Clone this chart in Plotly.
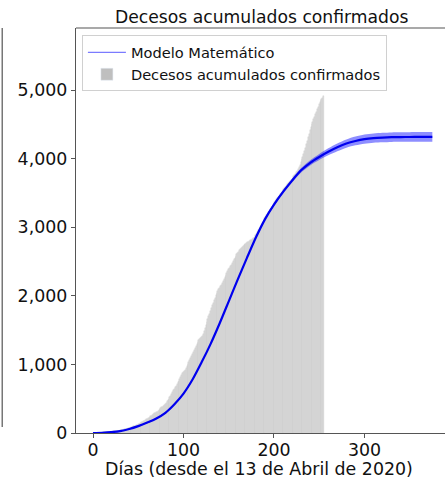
import plotly.graph_objects as go

# ---------------- data ----------------
bar_days = list(range(0, 256))
bar_deaths = [
    2, 2, 3, 3, 4, 4, 5, 5, 6, 7,
    7, 8, 9, 10, 11, 12, 13, 14, 15, 17,
    18, 20, 21, 23, 25, 27, 29, 31, 33, 36,
    38, 41, 44, 47, 50, 53, 57, 60, 64, 68,
    72, 76, 80, 85, 90, 95, 100, 106, 112, 118,
    125, 132, 140, 147, 155, 163, 171, 180, 189, 198,
    208, 215, 222, 230, 242, 255, 265, 275, 285, 292,
    300, 312, 325, 338, 350, 362, 372, 382, 395, 410,
    425, 442, 460, 480, 500, 522, 545, 570, 595, 620,
    645, 668, 692, 715, 738, 760, 790, 820, 850, 870,
    885, 900, 920, 945, 970, 1000, 1030, 1060, 1090, 1120,
    1150, 1180, 1210, 1240, 1270, 1300, 1325, 1350, 1370, 1385,
    1395, 1410, 1440, 1480, 1530, 1580, 1620, 1660, 1700, 1740,
    1780, 1820, 1860, 1900, 1940, 1975, 2010, 2040, 2070, 2095,
    2115, 2140, 2165, 2190, 2220, 2250, 2280, 2310, 2340, 2365,
    2390, 2410, 2430, 2455, 2480, 2505, 2530, 2555, 2580, 2605,
    2625, 2645, 2665, 2685, 2700, 2715, 2730, 2740, 2750, 2760,
    2770, 2780, 2790, 2800, 2810, 2820, 2830, 2840, 2850, 2860,
    2880, 2905, 2930, 2955, 2980, 3005, 3030, 3055, 3080, 3105,
    3130, 3150, 3175, 3200, 3220, 3240, 3260, 3280, 3300, 3320,
    3345, 3365, 3385, 3405, 3425, 3445, 3460, 3480, 3500, 3520,
    3535, 3555, 3570, 3590, 3605, 3625, 3640, 3660, 3675, 3695,
    3710, 3725, 3745, 3760, 3780, 3800, 3825, 3850, 3880, 3910,
    3950, 3990, 4030, 4070, 4110, 4160, 4210, 4260, 4310, 4360,
    4420, 4460, 4500, 4540, 4575, 4610, 4645, 4680, 4720, 4760,
    4790, 4820, 4850, 4870, 4890, 4910,
]

model_days = [0, 10, 20, 30, 40, 50, 60, 70, 80, 90, 100, 110, 120, 130, 140,
              150, 160, 170, 180, 190, 200, 210, 220, 230, 240, 250, 260, 270,
              280, 290, 300, 310, 320, 330, 340, 350, 360, 375]
model_deaths = [0, 4, 12, 28, 58, 100, 152, 212, 295, 420, 575, 780, 1030, 1300,
                1600, 1920, 2240, 2550, 2850, 3115, 3330, 3515, 3680, 3830, 3940,
                4025, 4100, 4165, 4220, 4258, 4285, 4300, 4308, 4313, 4315, 4316,
                4317, 4318]
model_spread = [0, 2, 4, 6, 8, 10, 10, 10, 10, 10, 10, 10, 10, 10, 10,
                10, 12, 14, 16, 18, 22, 25, 28, 32, 38, 44, 50, 56,
                60, 64, 66, 68, 70, 70, 70, 70, 70, 70]

y_ticks = [0, 1000, 2000, 3000, 4000, 5000]
y_tick_labels = ["0", "1,000", "2,000", "3,000", "4,000", "5,000"]
x_ticks = [0, 100, 200, 300]

title_text = "Decesos acumulados confirmados"
x_label = "Días (desde el 13 de Abril de 2020)"

# ---------------- figure ----------------
FONT = "DejaVu Sans"
fig = go.Figure()

fig.add_trace(go.Bar(
    x=bar_days, y=bar_deaths, width=1.0,
    marker=dict(color="#dedede", line=dict(width=0.4, color="#cbcbcb")),
    name="Decesos acumulados confirmados", showlegend=False,
))

upper = [m + s for m, s in zip(model_deaths, model_spread)]
lower = [m - s for m, s in zip(model_deaths, model_spread)]
fig.add_trace(go.Scatter(x=model_days, y=lower, mode="lines", line=dict(width=0, shape="spline", smoothing=0.8),
                         showlegend=False, hoverinfo="skip"))
fig.add_trace(go.Scatter(x=model_days, y=upper, mode="lines", line=dict(width=0, shape="spline", smoothing=0.8),
                         fill="tonexty", fillcolor="rgba(30,30,255,0.5)",
                         showlegend=False, hoverinfo="skip"))
fig.add_trace(go.Scatter(x=model_days, y=model_deaths, mode="lines",
                         line=dict(color="#0000ee", width=2.2, shape="spline", smoothing=0.8),
                         showlegend=False))

# legend-only entries
fig.add_trace(go.Scatter(x=[None], y=[None], mode="lines",
                         line=dict(color="rgba(90,90,255,0.8)", width=1.2),
                         name="Modelo Matemático", legendrank=1))
fig.add_trace(go.Bar(x=[None], y=[None], marker=dict(color="#bfbfbf"),
                     name="Decesos acumulados confirmados", legendrank=2))

axis_color = "#555555"
fig.update_layout(
    width=445, height=479,
    margin=dict(l=76, r=0, t=28, b=46),
    paper_bgcolor="white", plot_bgcolor="white",
    bargap=0, barmode="overlay",
    font=dict(family=FONT, color="#111111"),
    showlegend=True,
    legend=dict(x=0.016, y=0.982, xanchor="left", yanchor="top",
                traceorder="normal",
                bgcolor="rgba(255,255,255,0.9)", bordercolor="#d0d0d0", borderwidth=1,
                font=dict(family=FONT, size=14.6, color="#111111"),
                tracegroupgap=0, itemwidth=38),
    xaxis=dict(range=[-18.8, 389], tickmode="array", tickvals=x_ticks,
               showgrid=False, zeroline=False, showline=True, linecolor=axis_color,
               linewidth=1.2, ticks="outside", ticklen=4, tickcolor=axis_color,
               ticklabelstandoff=-3,
               tickfont=dict(family=FONT, size=17.4, color="#111111")),
    yaxis=dict(range=[0, 5905], tickmode="array", tickvals=y_ticks, ticktext=y_tick_labels,
               showgrid=False, zeroline=False, showline=True, linecolor=axis_color,
               linewidth=1.2, ticks="outside", ticklen=4, tickcolor=axis_color,
               tickfont=dict(family=FONT, size=17.4, color="#111111")),
    annotations=[
        dict(text=title_text, xref="paper", yref="paper", x=0.504, y=1.027,
             xanchor="center", yanchor="middle", showarrow=False,
             font=dict(family=FONT, size=17.2, color="#111111")),
        dict(text=x_label, xref="paper", yref="paper", x=0.497, y=-0.09,
             xanchor="center", yanchor="middle", showarrow=False,
             font=dict(family=FONT, size=17.4, color="#111111")),
    ],
    shapes=[
        dict(type="line", xref="paper", yref="paper", x0=0, x1=1.02, y0=1, y1=1,
             line=dict(color=axis_color, width=1.2)),
        dict(type="line", xref="paper", yref="paper", x0=-0.2, x1=-0.2, y0=0.015, y1=1,
             line=dict(color=axis_color, width=1.2)),
    ],
)

fig.write_html(
    "out.html",
    config={"displayModeBar": False},
    post_script="document.body.style.margin='0';document.body.style.overflow='hidden';",
)
